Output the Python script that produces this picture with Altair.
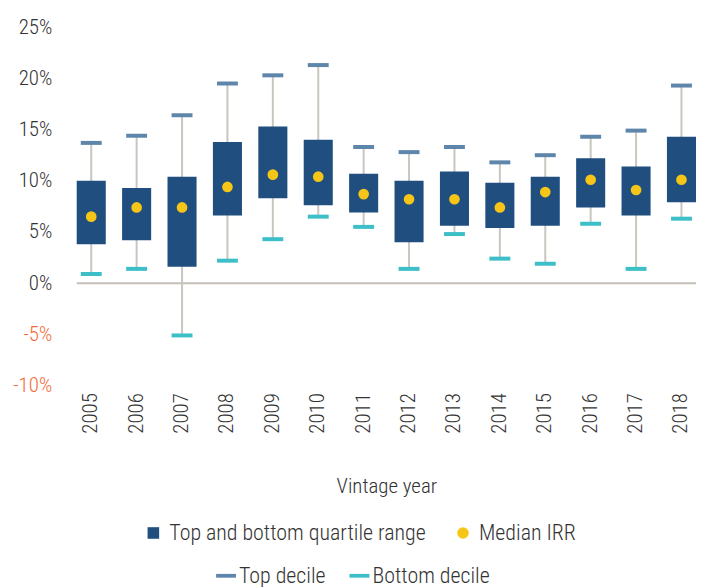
import altair as alt
import pandas as pd

years = [str(y) for y in range(2005, 2019)]
top_decile = [13.7, 14.4, 16.4, 19.5, 20.3, 21.3, 13.3, 12.8, 13.3, 11.8, 12.5, 14.3, 14.9, 19.3]
upper_quartile = [10.0, 9.3, 10.4, 13.8, 15.3, 14.0, 10.7, 10.0, 10.9, 9.8, 10.4, 12.2, 11.4, 14.3]
median_irr = [6.5, 7.4, 7.4, 9.4, 10.6, 10.4, 8.7, 8.2, 8.2, 7.4, 8.9, 10.1, 9.1, 10.1]
lower_quartile = [3.8, 4.2, 1.6, 6.6, 8.3, 7.6, 6.9, 4.0, 5.6, 5.4, 5.6, 7.4, 6.6, 7.9]
bottom_decile = [0.9, 1.4, -5.1, 2.2, 4.3, 6.5, 5.5, 1.4, 4.8, 2.4, 1.9, 5.8, 1.4, 6.3]
y_ticks = [-10, -5, 0, 5, 10, 15, 20, 25]

BOX_LAB = "Top and bottom quartile range"
MED_LAB = "Median IRR"
TOP_LAB = "Top decile"
BOT_LAB = "Bottom decile"

FONT = "Roboto Condensed, Liberation Sans Narrow, Roboto, sans-serif"
FW = 300
FS = 21
LFS = 22
TXT = "#333333"

df = pd.DataFrame({
    "year": years,
    "top": top_decile,
    "q3": upper_quartile,
    "med": median_irr,
    "q1": lower_quartile,
    "bot": bottom_decile,
    "lab": [BOX_LAB] * len(years),
    "mlab": [MED_LAB] * len(years),
})
caps = pd.DataFrame({
    "year": years + years,
    "value": top_decile + bottom_decile,
    "which": [TOP_LAB] * len(years) + [BOT_LAB] * len(years),
})
zero = pd.DataFrame({"v": [0]})

x_enc = alt.X(
    "year:O",
    scale=alt.Scale(paddingInner=0.36, paddingOuter=0),
    axis=alt.Axis(
        title="Vintage year", labelAngle=-90, labelPadding=7, ticks=False, domain=False,
        labelFontSize=FS, labelColor=TXT, labelFont=FONT, labelFontWeight=FW,
        titleFontSize=FS, titleColor=TXT, titleFont=FONT, titleFontWeight=FW,
        titlePadding=42,
    ),
)
y_scale = alt.Scale(domain=[-10, 25], nice=False, zero=False)
y_axis = alt.Axis(
    title=None, values=y_ticks, labelExpr="datum.value + '%'", grid=False, ticks=False,
    domain=False, labelPadding=25, labelFontSize=FS, labelFont=FONT, labelFontWeight=FW,
    labelColor=alt.condition("datum.value < 0", alt.value("#F26B3A"), alt.value(TXT)),
)

color_scale = alt.Scale(domain=[BOX_LAB, MED_LAB], range=["#1F4E7F", "#F5C518"])
shape_scale = alt.Scale(domain=[BOX_LAB, MED_LAB], range=["square", "circle"])
leg1 = alt.Legend(
    title=None, orient="none", legendX=66, legendY=497, direction="horizontal",
    labelFontSize=LFS, labelFont=FONT, labelFontWeight=FW, labelColor=TXT, labelLimit=0,
    symbolSize=135, columnPadding=26, symbolOpacity=1, symbolStrokeWidth=0, padding=0,
    labelOffset=5,
)
fill_scale = alt.Scale(domain=[TOP_LAB, BOT_LAB], range=["#5E86AA", "#3DBFC8"])
leg2 = alt.Legend(
    title=None, orient="none", legendX=139, legendY=540, direction="horizontal",
    labelFontSize=LFS, labelFont=FONT, labelFontWeight=FW, labelColor=TXT, labelLimit=0,
    symbolSize=400, columnPadding=22, symbolType="M-1,-0.19H1V0.19H-1Z", symbolOpacity=1,
    symbolStrokeWidth=0, padding=0, labelOffset=2,
)

base = alt.Chart(df)

zero_rule = alt.Chart(zero).mark_rule(color="#C4C0B8", strokeWidth=2).encode(
    y=alt.Y("v:Q", scale=y_scale, axis=y_axis)
)
whisker = base.mark_rule(color="#C9C6BF", strokeWidth=2).encode(
    x=x_enc, y=alt.Y("bot:Q", scale=y_scale, axis=y_axis), y2="top:Q"
)
box = base.mark_bar().encode(
    x=x_enc,
    y=alt.Y("q1:Q", scale=y_scale, axis=y_axis),
    y2="q3:Q",
    color=alt.Color("lab:N", scale=color_scale, legend=leg1),
)
cap = alt.Chart(caps).mark_tick(thickness=4, size=21, opacity=1).encode(
    x=x_enc,
    y=alt.Y("value:Q", scale=y_scale, axis=y_axis),
    fill=alt.Fill("which:N", scale=fill_scale, legend=leg2),
)
med = base.mark_point(filled=True, size=115, opacity=1).encode(
    x=x_enc,
    y=alt.Y("med:Q", scale=y_scale, axis=y_axis),
    color=alt.Color("mlab:N", scale=color_scale, legend=leg1),
    shape=alt.Shape("mlab:N", scale=shape_scale, legend=leg1),
)

chart = alt.layer(zero_rule, whisker, box, cap, med).properties(
    width=622, height=360, background="white",
    autosize=alt.AutoSizeParams(type="none"),
    padding={"left": 69, "top": 18, "right": 0, "bottom": 201},
).configure_view(stroke=None)

chart.save("out.html", embed_options={"renderer": "svg", "actions": False})
